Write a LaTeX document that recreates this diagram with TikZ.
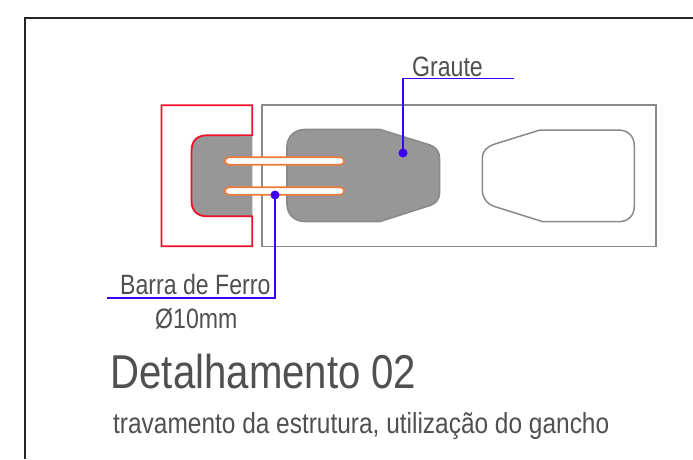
\documentclass[tikz,border=0pt]{standalone}
\usepackage{fontspec}
\setmainfont{Liberation Sans}
\newfontfamily\fa[FakeStretch=0.825]{Liberation Sans}
\newfontfamily\fb[FakeStretch=0.845]{Liberation Sans}
\newfontfamily\fc[FakeStretch=0.843]{Liberation Sans}
\definecolor{txt}{HTML}{505050}
\definecolor{fillg}{HTML}{979797}
\definecolor{lineg}{HTML}{8A8A8A}
\definecolor{redl}{HTML}{F0102C}
\definecolor{orangel}{HTML}{EE7A36}
\definecolor{bluel}{HTML}{3C00F0}
\tikzset{
  lbl/.style={anchor=base west,inner sep=0pt,text=txt},
  grout/.style={fill=fillg,draw=lineg,line width=1.6pt},
  outline/.style={draw=lineg,line width=1.8pt},
  redline/.style={draw=redl,line width=1.8pt},
  bar/.style={draw=orangel,fill=white,line width=1.7pt,rounded corners=3.6pt},
  leader/.style={draw=bluel,line width=1.7pt},
  dotm/.style={circle,fill=bluel,inner sep=0pt,minimum size=9pt}
}
\begin{document}
\begin{tikzpicture}[x=1pt,y=-1pt]
\useasboundingbox (0,0) rectangle (693,459);
\fill[white] (0,0) rectangle (693,459);
% frame
\draw[black!85,line width=2pt] (24.5,459) -- (24.5,18.3) -- (693,18.3);
% main wall
\draw[outline] (262.3,105.3) rectangle (655.7,246.5);
% left grout with red hook outline
\fill[fillg] (252.3,135.3) -- (207,135.3) .. controls (197,135.3) and (191.5,141) .. (191.5,151) -- (191.5,201) .. controls (191.5,210.5) and (197,216.3) .. (207,216.3) -- (252.3,216.3) -- cycle;
\draw[redline,line join=miter] (252.3,135.3) -- (252.3,105.3) -- (161.5,105.3) -- (161.5,246.3) -- (252.3,246.3) -- (252.3,216.3) -- (207,216.3) .. controls (197,216.3) and (191.5,210.5) .. (191.5,201) -- (191.5,151) .. controls (191.5,141) and (197,135.3) .. (207,135.3) -- cycle;
\fill[fillg] (240,136.2) rectangle (251.4,215.4);
% right grout
\draw[grout] (305,129.5) -- (380,129.5) -- (430,145) .. controls (436,147) and (439.5,152) .. (439.5,158) -- (439.5,193) .. controls (439.5,199) and (436,203.5) .. (430,205.5) -- (380,221.5) -- (305,221.5) .. controls (294,221.5) and (287,214) .. (287,204) -- (287,147) .. controls (287,137) and (294,129.5) .. (305,129.5) -- cycle;
% right hole
\draw[outline,line width=1.5pt] (540,130) -- (618,130) .. controls (628,130) and (634.3,136) .. (634.3,146) -- (634.3,206) .. controls (634.3,216) and (628,221.7) .. (618,221.7) -- (543,221.7) -- (495,206.7) .. controls (487,204) and (482.3,198) .. (482.3,190) -- (482.3,158) .. controls (482.3,151) and (487,146.5) .. (495,144) -- cycle;
% bars
\node[bar,minimum width=119pt,minimum height=7.4pt,inner sep=0pt] (bar1) at (284.5,161) {};
\node[bar,minimum width=119pt,minimum height=7.4pt,inner sep=0pt] (bar2) at (284.5,191) {};
% leaders
\node[dotm] (dotg) at (403,153) {};
\coordinate (gk) at (403,78.5);
\coordinate (ge) at (514.3,78.5);
\draw[leader] (dotg.center) -- (gk) -- (ge);
\node[dotm] (dotb) at (275,195) {};
\coordinate (bk) at (275,297.7);
\coordinate (be) at (106.7,297.7);
\draw[leader] (dotb.center) -- (bk) -- (be);
% text
\node[lbl,font=\fa\fontsize{28pt}{32pt}\selectfont] (t1) at (412,76.3) {Graute};
\node[lbl,font=\fa\fontsize{28pt}{32pt}\selectfont] (t2) at (120,294.3) {Barra de Ferro};
\node[lbl,font=\fa\fontsize{28pt}{32pt}\selectfont] (t3) at (155,328.3) {Ø10mm};
\node[lbl,font=\fb\fontsize{47.5pt}{52pt}\selectfont] (t4) at (110.5,388) {Detalhamento 02};
\node[lbl,font=\fc\fontsize{29pt}{33pt}\selectfont] (t5) at (113,433.3) {travamento da estrutura, utilização do gancho};
\end{tikzpicture}
\end{document}
